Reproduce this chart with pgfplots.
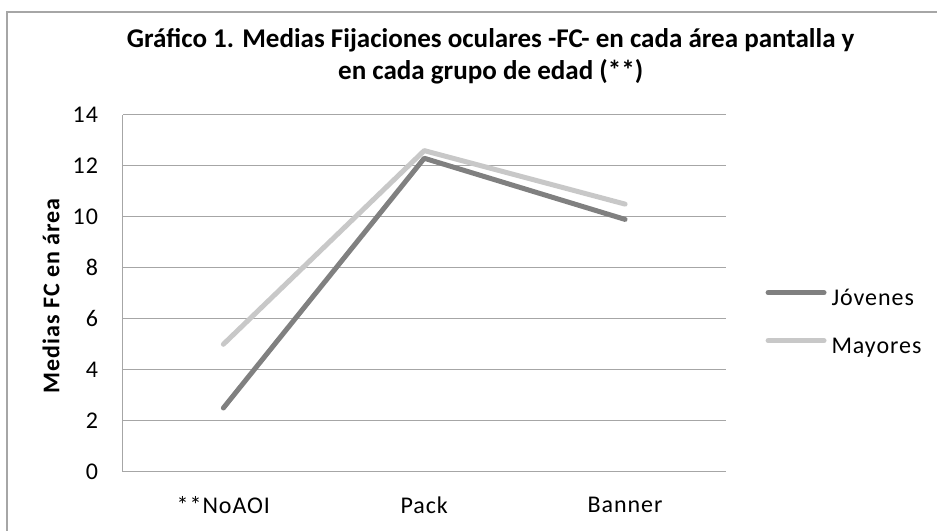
\documentclass[border=0pt]{standalone}
\usepackage{pgfplots}
\pgfplotsset{compat=1.18}
\usepackage{fontspec}
\setmainfont{Carlito}
\newfontfamily\lbl[LetterSpace=4]{Carlito}
\definecolor{gridc}{RGB}{166,166,166}
\definecolor{jov}{RGB}{128,128,128}
\definecolor{may}{RGB}{200,200,200}
\begin{document}
\begin{tikzpicture}
\path (0pt,0pt) rectangle (703.5pt,-398.25pt);
\draw[gridc, line width=0.9pt] (5.25pt,-398.25pt) -- (5.25pt,-9pt) -- (703.5pt,-9pt);
\node[font=\bfseries\fontsize{20.3}{24}\selectfont, anchor=base, inner sep=0pt] at (368.25pt,-36pt)
  {Gráfico 1. Medias Fijaciones oculares -FC- en cada área pantalla y};
\node[font=\bfseries\fontsize{20.3}{24}\selectfont, anchor=base, inner sep=0pt] at (368.25pt,-60pt)
  {en cada grupo de edad (**)};
\begin{axis}[
  at={(92.25pt,-354pt)}, anchor=south west,
  scale only axis, width=452.25pt, height=267.75pt,
  xmin=-0.5, xmax=2.5, ymin=0, ymax=14,
  xtick={0,1,2}, xticklabels={**NoAOI,Pack,Banner},
  ytick={0,2,...,14},
  ymajorgrids, grid style={gridc, line width=0.75pt},
  axis x line*=bottom, axis y line*=left,
  axis line style={gridc, line width=0.75pt, -},
  major tick length=0pt,
  tick label style={font=\lbl\fontsize{18}{21}\selectfont, black},
  /pgf/number format/assume math mode=true,
  yticklabel style={anchor=east, inner sep=0pt, xshift=-18.5pt},
  xticklabel style={anchor=center, inner sep=0pt, yshift=-25pt},
  ylabel={\addfontfeature{LetterSpace=4}Medias FC en área},
  ylabel style={font=\bfseries\fontsize{18}{21}\selectfont, at={(axis description cs:-0.1194,0.493)}, anchor=center},
  legend style={at={(axis description cs:1.066,0.414)}, anchor=west, draw=none, fill=none,
    font=\lbl\fontsize{18}{21}\selectfont, inner sep=0pt,
    nodes={inner sep=0pt, text height=12pt, text depth=4pt},
    row sep=20pt, column sep=3.75pt},
  legend cell align=left,
  legend image code/.code={\draw[#1, line cap=round] (0pt,5.5pt) -- (42pt,5.5pt);},
]
\addplot[jov, line width=3.75pt, line cap=round, line join=round] coordinates {(0,2.5) (1,12.3) (2,9.9)};
\addlegendentry{Jóvenes}
\addplot[may, line width=3.75pt, line cap=round, line join=round] coordinates {(0,5.0) (1,12.6) (2,10.5)};
\addlegendentry{Mayores}
\end{axis}
\end{tikzpicture}
\end{document}
